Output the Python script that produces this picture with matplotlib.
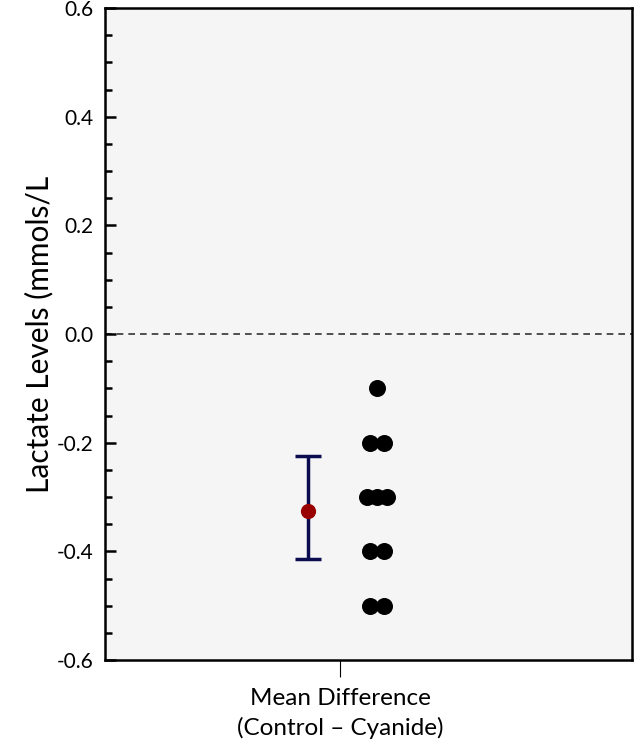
import matplotlib
matplotlib.use("Agg")
import matplotlib.pyplot as plt
from matplotlib.ticker import MultipleLocator

# Data
diff_values = [-0.1, -0.2, -0.2, -0.3, -0.3, -0.3, -0.4, -0.4, -0.5, -0.5]
dot_offsets = [0.0, -0.07, 0.07, -0.10, 0.0, 0.10, -0.07, 0.07, -0.07, 0.07]
mean_diff = -0.325
ci_low = -0.415
ci_high = -0.225
category = "Mean Difference\n(Control \u2013 Cyanide)"

plt.rcParams['font.family'] = ['Lato', 'DejaVu Sans']

fig = plt.figure(figsize=(6.37, 7.5), dpi=100)
ax = fig.add_axes([105/637, 90/750, 527/637, 652/750])
ax.set_facecolor('#f5f5f5')

dots_x = 0.37
ax.scatter([dots_x + o for o in dot_offsets], diff_values, s=150, color='black', zorder=3, linewidths=0)

ci_x = -0.32
ax.errorbar([ci_x], [mean_diff], yerr=[[mean_diff - ci_low], [ci_high - mean_diff]],
            fmt='none', ecolor='#0b0b4f', elinewidth=2.5, capsize=9.5, capthick=2.5, zorder=2)
ax.scatter([ci_x], [mean_diff], s=120, color='#990000', zorder=4, linewidths=0)

ax.axhline(0, color='#333333', linestyle=(0, (4, 3)), linewidth=1.2, zorder=1)

ax.set_xlim(-2.35, 2.92)
ax.set_ylim(-0.6, 0.6)
ax.yaxis.set_major_locator(MultipleLocator(0.2))
ax.yaxis.set_minor_locator(MultipleLocator(0.05))
ax.set_yticks([-0.6, -0.4, -0.2, 0.0, 0.2, 0.4, 0.6])
ax.set_yticklabels(['-0.6', '-0.4', '-0.2', '0.0', '0.2', '0.4', '0.6'])
ax.tick_params(axis='y', which='major', direction='in', length=8, width=1.8, labelsize=15, pad=8)
ax.tick_params(axis='y', which='minor', direction='in', length=5, width=1.8)
ax.set_xticks([0])
ax.set_xticklabels([category], fontsize=17.5, linespacing=1.45)
ax.tick_params(axis='x', direction='out', length=12, width=0.8, pad=8)

for sp in ax.spines.values():
    sp.set_linewidth(1.8)
    sp.set_color('black')

ax.set_ylabel('Lactate Levels (mmols/L', fontsize=21.5, labelpad=3)

fig.savefig('out.png', dpi=100)
